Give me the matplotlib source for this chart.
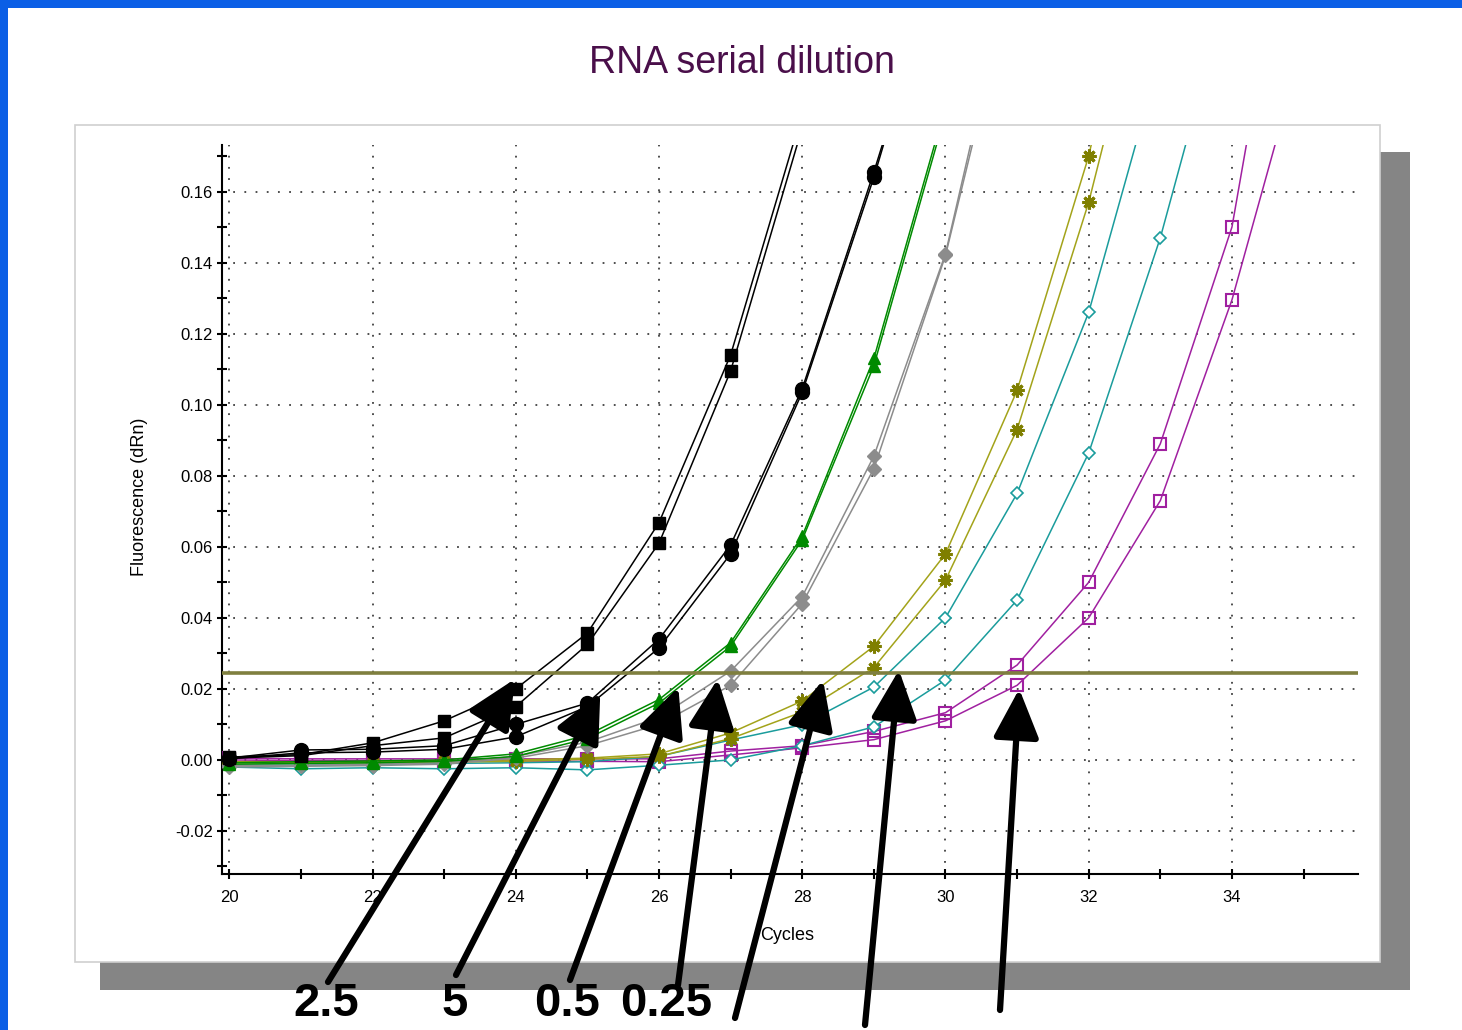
import numpy as np
import matplotlib
matplotlib.use("Agg")
import matplotlib.pyplot as plt
from matplotlib.patches import Rectangle
from matplotlib.ticker import MultipleLocator, FormatStrFormatter

plt.rcParams['font.family'] = ['Liberation Sans', 'DejaVu Sans']

# amplification curves, two replicates per dilution, values from cycle 20 on
cyc0 = 20
sq_a = [0.0008, 0.0015, 0.0048, 0.0110, 0.0200, 0.0357, 0.0668, 0.1140, 0.182]
sq_b = [0.0005, 0.0012, 0.0040, 0.0062, 0.0150, 0.0325, 0.0610, 0.1095, 0.178]
ci_a = [0.0005, 0.0028, 0.0030, 0.0040, 0.0100, 0.0160, 0.0340, 0.0605, 0.1045, 0.1655, 0.230]
ci_b = [0.0003, 0.0020, 0.0022, 0.0030, 0.0065, 0.0150, 0.0315, 0.0580, 0.1035, 0.1640, 0.232]
gr_a = [-0.0008, -0.0005, -0.0003, 0.0000, 0.0017, 0.0070, 0.0170, 0.0330, 0.0630, 0.1130, 0.184]
gr_b = [-0.0012, -0.0010, -0.0008, -0.0004, 0.0010, 0.0060, 0.0160, 0.0320, 0.0620, 0.1110, 0.182]
gy_a = [-0.0015, -0.0015, -0.0012, -0.0008, 0.0010, 0.0050, 0.0120, 0.0250, 0.0460, 0.0855, 0.1425, 0.230]
gy_b = [-0.0020, -0.0018, -0.0016, -0.0012, 0.0005, 0.0040, 0.0100, 0.0210, 0.0440, 0.0820, 0.1420, 0.225]
ol_a = [-0.0005, -0.0005, -0.0005, -0.0003, 0.0000, 0.0005, 0.0017, 0.0076, 0.0166, 0.0320, 0.0580,
        0.1040, 0.1700, 0.260]
ol_b = [-0.0008, -0.0008, -0.0008, -0.0006, -0.0004, 0.0002, 0.0010, 0.0060, 0.0135, 0.0260, 0.0506,
        0.0930, 0.1570, 0.237]
te_a = [-0.0015, -0.0015, -0.0012, -0.0010, -0.0008, -0.0005, 0.0010, 0.0056, 0.0099, 0.0205, 0.0400,
        0.0750, 0.1260, 0.198]
te_b = [-0.0020, -0.0025, -0.0022, -0.0025, -0.0022, -0.0028, -0.0015, 0.0000, 0.0040, 0.0093, 0.0225,
        0.0450, 0.0864, 0.1470, 0.221]
mg_a = [0.0005, 0.0003, 0.0003, 0.0003, 0.0003, 0.0003, 0.0003, 0.0025, 0.0040, 0.0080, 0.0133,
        0.0267, 0.0500, 0.0890, 0.1500, 0.265]
mg_b = [0.0000, -0.0002, -0.0002, -0.0002, -0.0003, -0.0004, -0.0005, 0.0014, 0.0034, 0.0057, 0.0110,
        0.0210, 0.0400, 0.0730, 0.1295, 0.202]
threshold = 0.0245

# arrow heads (cycle, dRn) and tails (image pixels), labels under the chart
arrow_heads = [(23.99, 0.0228), (25.18, 0.0189), (26.27, 0.0205), (26.82, 0.0228),
               (28.29, 0.0225), (29.35, 0.0253), (31.03, 0.0200)]
arrow_tails = [(328, 982), (456, 975), (570, 980), (678, 985), (735, 1018), (865, 1025), (1000, 1010)]
dil_labels = ["2.5", "5", "0.5", "0.25"]
dil_label_x = [326, 455, 567, 666]

W, H = 1462, 1030
fig = plt.figure(figsize=(W / 100, H / 100), dpi=100)


def box(x0, y0, x1, y1, **kw):
    # rectangle given in image pixels (origin top left)
    fig.add_artist(Rectangle((x0 / W, 1 - y1 / H), (x1 - x0) / W, (y1 - y0) / H,
                             transform=fig.transFigure, zorder=-10, **kw))


box(0, 0, W, 8, color='#0b5fe6', lw=0)
box(0, 0, 8, H, color='#0b5fe6', lw=0)
box(1380, 152, 1410, 990, color='#858585', lw=0)
box(100, 962, 1410, 990, color='#858585', lw=0)
box(75, 125, 1380, 962, facecolor='white', edgecolor='#cfcfcf', lw=1.2)

fig.text(742 / W, 1 - 63 / H, "RNA serial dilution", ha='center', va='center',
         fontsize=27, color='#4a0f4a')

ax = fig.add_axes([221.7 / W, 1 - 874.3 / H, (1358 - 221.7) / W, (874.3 - 145) / H])
ax.patch.set_alpha(0)

series = [
    (sq_a, 'black', dict(marker='s', ms=9, mfc='black')),
    (sq_b, 'black', dict(marker='s', ms=9, mfc='black')),
    (ci_a, 'black', dict(marker='o', ms=10, mfc='black')),
    (ci_b, 'black', dict(marker='o', ms=10, mfc='black')),
    (gr_a, '#008a00', dict(marker='^', ms=9, mfc='#008a00')),
    (gr_b, '#008a00', dict(marker='^', ms=9, mfc='#008a00')),
    (gy_a, '#8c8c8c', dict(marker='D', ms=7.5, mfc='#8c8c8c')),
    (gy_b, '#8c8c8c', dict(marker='D', ms=7.5, mfc='#8c8c8c')),
    (ol_a, '#a3a31a', dict(marker=(8, 2, 0), ms=10, mew=2.2, mec='#7f7f00')),
    (ol_b, '#a3a31a', dict(marker=(8, 2, 0), ms=10, mew=2.2, mec='#7f7f00')),
    (te_a, '#1a9c9c', dict(marker='D', ms=6.5, mfc='white', mew=1.2)),
    (te_b, '#1a9c9c', dict(marker='D', ms=6.5, mfc='white', mew=1.2)),
    (mg_a, '#a020a0', dict(marker='s', ms=9, mfc='none', mew=1.5)),
    (mg_b, '#a020a0', dict(marker='s', ms=9, mfc='none', mew=1.5)),
]
for vals, col, mk in reversed(series):
    x = np.arange(cyc0, cyc0 + len(vals))
    ax.plot(x, vals, color=col, lw=1.1, zorder=3, **mk)

ax.axhline(threshold, color='#7f7f3f', lw=2.6, zorder=4)

ax.set_xlim(19.894, 35.76)
ax.set_ylim(-0.0322, 0.1731)
ax.xaxis.set_major_locator(MultipleLocator(2))
ax.xaxis.set_minor_locator(MultipleLocator(1))
ax.yaxis.set_major_locator(MultipleLocator(0.02))
ax.yaxis.set_minor_locator(MultipleLocator(0.01))
ax.yaxis.set_major_formatter(FormatStrFormatter('%.2f'))
for s in ['top', 'right']:
    ax.spines[s].set_visible(False)
for s in ['left', 'bottom']:
    ax.spines[s].set_linewidth(1.5)
ax.tick_params(which='both', direction='inout', length=6.5, width=1.5, labelsize=12)
ax.tick_params(axis='y', pad=3)
ax.tick_params(axis='x', pad=8)
ax.grid(True, which='major', color='#404040', lw=1.3, ls=(0, (1, 5.2)), zorder=1)
ax.set_axisbelow(True)

ax.set_ylabel("Fluorescence (dRn)", fontsize=13)
ax.yaxis.set_label_coords(-0.0649, 0.517)
ax.set_xlabel("Cycles", fontsize=13)
ax.xaxis.set_label_coords(0.498, -0.072)

for (hx, hy), (tx, ty) in zip(arrow_heads, arrow_tails):
    ax.annotate('', xy=(hx, hy), xycoords='data', xytext=(tx, H - ty), textcoords='figure pixels',
                arrowprops=dict(arrowstyle='-|>,head_length=1.5,head_width=0.7', lw=4.5, color='black',
                                shrinkA=0, shrinkB=0, mutation_scale=20),
                annotation_clip=False, zorder=10)

for lab, lx in zip(dil_labels, dil_label_x):
    fig.text(lx / W, 4 / H, lab, ha='center', va='bottom', fontsize=34, fontweight='bold')

fig.savefig("out.png", dpi=100)
